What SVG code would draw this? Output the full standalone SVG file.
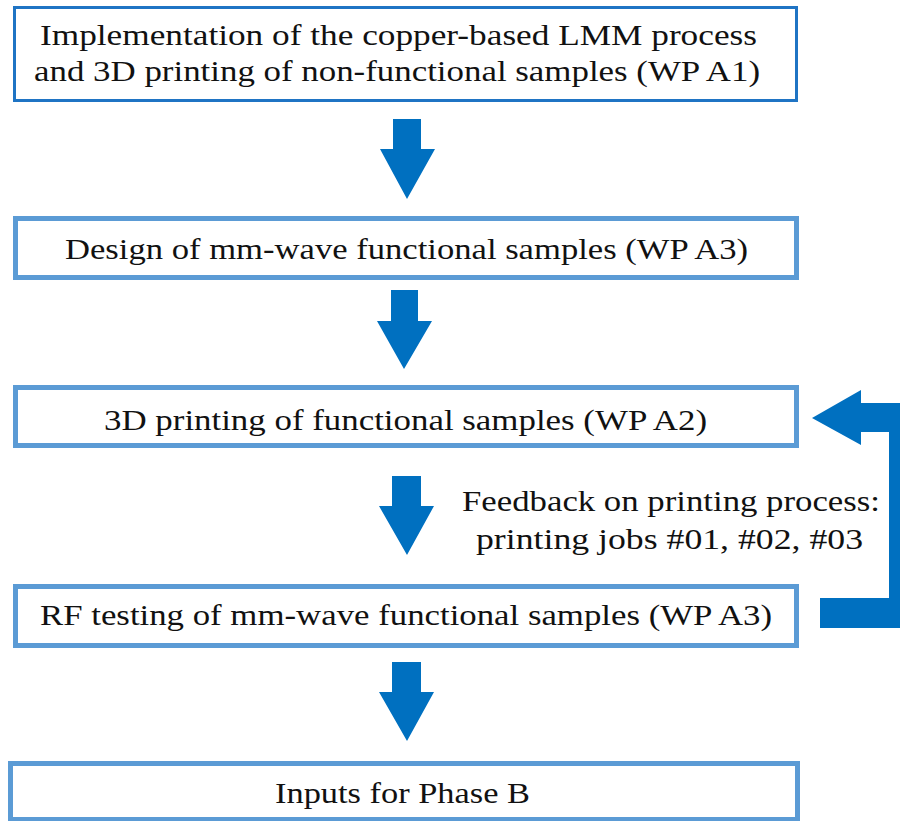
<svg xmlns="http://www.w3.org/2000/svg" width="908" height="821" viewBox="0 0 908 821">
<style>
.box{fill:#fff;stroke:#5B9BD5;stroke-width:5}
.box1{fill:#fff;stroke:#1F74C4;stroke-width:3}
.t{font-family:"Liberation Serif","DejaVu Serif",serif;font-size:29px;fill:#111}
.arr{fill:#0070C0}
</style>
<rect width="908" height="821" fill="#fff"/>
<g id="connectors">
<polygon class="arr" points="393,119 421,119 421,149 435,149 407,199 380,149 393,149"/>
<polygon class="arr" points="391,290 418,290 418,321 432,321 404,369 377,321 391,321"/>
<polygon class="arr" points="392,476 421,476 421,506 434,506 407,555 379,506 392,506"/>
<polygon class="arr" points="392,662 421,662 421,692 434,692 407,741 379,692 392,692"/>
<polygon class="arr" points="812,418 861,390 861,403 900,403 900,628 820,628 820,598 889,598 889,432 861,432 861,445"/>
</g>
<g id="n1">
<rect class="box1" x="14.5" y="7.5" width="782" height="93"/>
<text class="t" x="40" y="45" textLength="717" lengthAdjust="spacingAndGlyphs">Implementation of the copper-based LMM process</text>
<text class="t" x="34" y="81" textLength="726" lengthAdjust="spacingAndGlyphs">and 3D printing of non-functional samples (WP A1)</text>
</g>
<g id="n2">
<rect class="box" x="15.5" y="218.5" width="781" height="59"/>
<text class="t" x="65" y="259" textLength="683" lengthAdjust="spacingAndGlyphs">Design of mm-wave functional samples (WP A3)</text>
</g>
<g id="n3">
<rect class="box" x="15.5" y="387.5" width="781" height="58"/>
<text class="t" x="104" y="430" textLength="603" lengthAdjust="spacingAndGlyphs">3D printing of functional samples (WP A2)</text>
</g>
<g id="feedback-label">
<text class="t" x="462" y="511" textLength="418" lengthAdjust="spacingAndGlyphs">Feedback on printing process:</text>
<text class="t" x="476" y="549" textLength="387" lengthAdjust="spacingAndGlyphs">printing jobs #01, #02, #03</text>
</g>
<g id="n4">
<rect class="box" x="15.5" y="586.5" width="781" height="59"/>
<text class="t" x="40" y="625" textLength="732" lengthAdjust="spacingAndGlyphs">RF testing of mm-wave functional samples (WP A3)</text>
</g>
<g id="n5">
<rect class="box" x="10.5" y="763.5" width="787" height="56"/>
<text class="t" x="275" y="803" textLength="255" lengthAdjust="spacingAndGlyphs">Inputs for Phase B</text>
</g>
</svg>
